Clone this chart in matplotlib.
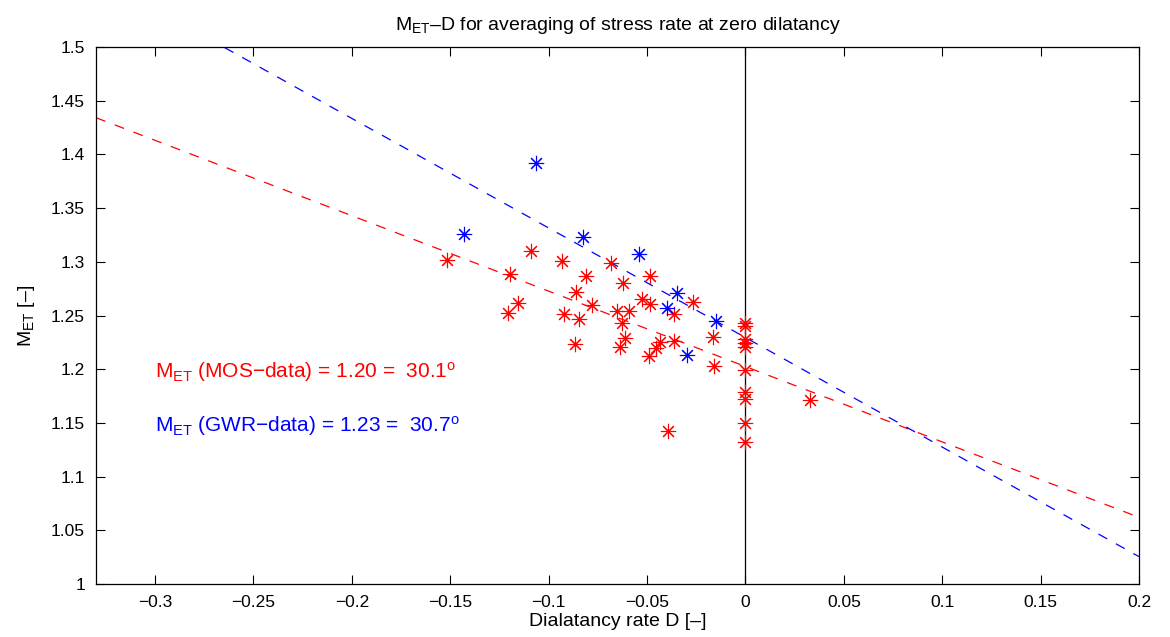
import numpy as np
import matplotlib
matplotlib.use("Agg")
import matplotlib.pyplot as plt
from matplotlib.ticker import FuncFormatter

plt.rcParams['font.family'] = ['Liberation Sans', 'DejaVu Sans']
plt.rcParams['mathtext.fontset'] = 'custom'
plt.rcParams['mathtext.rm'] = 'Liberation Sans'
plt.rcParams['mathtext.it'] = 'Liberation Sans'

# MOS data (red)
mos_d = [-0.1516, -0.1092, -0.1194, -0.1155, -0.1207, -0.0931, -0.0810, -0.0862,
         -0.0779, -0.0920, -0.0847, -0.0867, -0.0683, -0.0622, -0.0483, -0.0528,
         -0.0486, -0.0651, -0.0592, -0.0626, -0.0611, -0.0635, -0.0432, -0.0457,
         -0.0491, -0.0364, -0.0361, -0.0266, -0.0166, -0.0161, -0.0393, 0.0327,
         0.0, 0.0, 0.0, 0.0, 0.0, 0.0, 0.0, 0.0, 0.0, 0.0]
mos_m = [1.3017, 1.3100, 1.2886, 1.2614, 1.2526, 1.3007, 1.2870, 1.2720,
         1.2598, 1.2510, 1.2465, 1.2235, 1.2992, 1.2800, 1.2870, 1.2654,
         1.2604, 1.2542, 1.2542, 1.2427, 1.2294, 1.2204, 1.2257, 1.2194,
         1.2123, 1.2263, 1.2514, 1.2629, 1.2297, 1.2033, 1.1425, 1.1713,
         1.2430, 1.2399, 1.2277, 1.2245, 1.2207, 1.1993, 1.1791, 1.1720,
         1.1496, 1.1325]

# GWR data (blue)
gwr_d = [-0.1062, -0.1431, -0.0827, -0.0542, -0.0347, -0.0398, -0.0152, -0.0296]
gwr_m = [1.3917, 1.3260, 1.3228, 1.3070, 1.2710, 1.2567, 1.2452, 1.2132]

# linear fits: M = m0 + slope * D
mos_fit = (1.2025, -0.702)
gwr_fit = (1.2295, -1.02)

xlim = (-0.33, 0.2)
ylim = (1.0, 1.5)


def matlab_fmt(v, pos):
    v = round(v, 2)
    if abs(v) < 1e-9:
        return '0'
    return f"{v:g}".replace('-', '\u2212')


fig = plt.figure(figsize=(11.7, 6.37), dpi=100)
ax = fig.add_axes([0.0821, 0.0832, 0.8914, 0.8430])

xs = np.array(xlim)
ax.plot(xs, mos_fit[0] + mos_fit[1] * xs, color='red', ls=(0, (8, 8)), lw=0.9)
ax.plot(xs, gwr_fit[0] + gwr_fit[1] * xs, color='blue', ls=(0, (8, 8)), lw=0.9)
ax.axvline(0, color='black', lw=0.9)

ax.plot(mos_d, mos_m, ls='none', marker=(8, 2, 0), ms=11, mec='red', mew=0.8)
ax.plot(gwr_d, gwr_m, ls='none', marker=(8, 2, 0), ms=11, mec='blue', mew=0.8)

ax.text(-0.2998, 1.197, r'$\mathregular{M_{ET}}$ (MOS$-$data) = 1.20 =  30.1$^{\mathregular{o}}$',
        color='red', fontsize=15, va='center')
ax.text(-0.2998, 1.147, r'$\mathregular{M_{ET}}$ (GWR$-$data) = 1.23 =  30.7$^{\mathregular{o}}$',
        color='blue', fontsize=15, va='center')

ax.set_xlim(*xlim)
ax.set_ylim(*ylim)
ax.set_xticks(np.arange(-0.3, 0.21, 0.05))
ax.set_yticks(np.arange(1.0, 1.501, 0.05))
fmt = FuncFormatter(matlab_fmt)
ax.xaxis.set_major_formatter(fmt)
ax.yaxis.set_major_formatter(fmt)
ax.tick_params(direction='in', length=6.5, width=0.8, top=True, right=True,
               labelsize=12.5, pad=8)
for s in ax.spines.values():
    s.set_linewidth(0.9)

ax.set_xlabel('Dialatancy rate D [\u2013]', fontsize=14, labelpad=2)
ax.set_ylabel(r'$\mathregular{M_{ET}}$ [' + '\u2013]', fontsize=14, labelpad=10)
ax.set_title(r'$\mathregular{M_{ET}}$' + '\u2013D for averaging of stress rate at zero dilatancy',
             fontsize=14, pad=12)

fig.savefig('out.png', dpi=100)
